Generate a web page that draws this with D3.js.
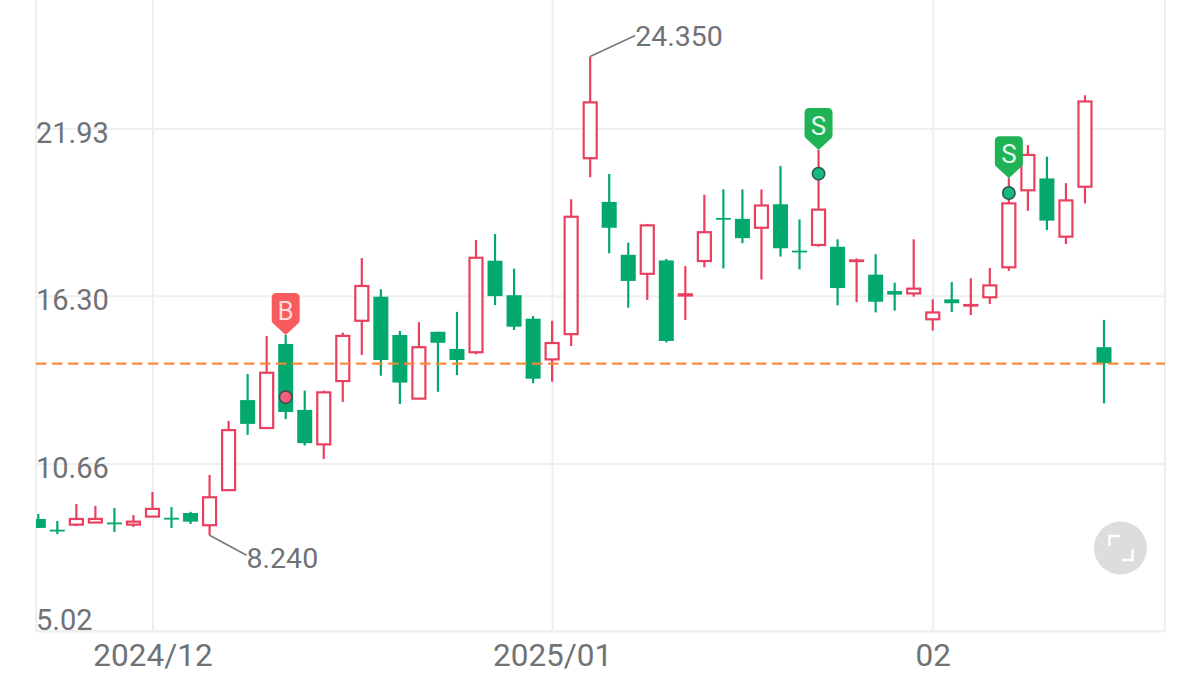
<!DOCTYPE html>
<html><head><meta charset="utf-8">
<script src="https://cdn.jsdelivr.net/npm/d3@7/dist/d3.min.js"></script>
<style>html,body{margin:0;padding:0;background:#fff;overflow:hidden}svg{display:block}text{font-family:Roboto,sans-serif}</style>
</head><body><svg id="c" width="1200" height="678"></svg>
<script>
const opens  = [8.79,8.43,8.60,8.67,8.67,8.60,8.87,8.83,8.99,8.58,9.76,12.79,11.85,14.68,12.46,11.30,13.43,15.46,16.27,14.98,12.84,15.09,14.51,14.40,17.48,16.32,15.53,14.16,15.01,20.93,19.46,17.68,17.04,17.49,16.31,17.47,18.92,18.89,18.59,19.38,17.82,18.01,17.95,17.47,17.01,16.46,16.38,15.51,16.18,15.97,16.25,17.26,19.85,20.25,18.29,19.97,14.57];
const closes = [8.49,8.41,8.79,8.79,8.65,8.70,9.13,8.81,8.70,9.52,11.78,11.99,13.71,12.39,11.34,13.05,14.95,16.63,14.14,13.38,14.57,14.72,14.14,17.58,16.29,15.26,13.51,14.71,18.96,22.81,18.59,16.80,18.67,14.78,16.35,18.44,18.90,18.24,19.34,17.90,17.80,19.20,16.56,17.49,16.10,16.34,16.54,15.74,16.05,15.99,16.65,19.41,21.04,18.83,19.51,22.84,14.03];
const highs  = [8.96,8.72,9.29,9.23,9.16,8.92,9.70,9.19,9.03,10.27,12.09,13.67,14.95,14.98,13.11,13.11,15.06,17.57,16.52,15.12,15.41,15.09,15.76,18.18,18.38,17.21,15.62,15.46,19.55,24.35,20.40,18.09,18.72,17.54,17.30,19.70,19.88,19.88,19.88,20.67,18.87,21.21,18.20,17.56,17.70,16.74,18.20,16.18,16.76,16.89,17.24,20.26,21.37,20.98,20.09,23.05,15.49];
const lows   = [8.49,8.28,8.55,8.66,8.35,8.52,8.86,8.49,8.62,8.24,9.74,11.62,11.84,12.15,11.26,10.81,12.73,14.31,13.61,12.66,12.82,13.07,13.63,14.33,15.99,15.15,13.36,13.41,14.61,20.29,17.73,15.90,16.16,14.73,15.49,17.26,17.22,18.07,16.85,17.62,17.19,17.95,15.98,16.09,15.74,15.80,16.27,15.13,15.75,15.65,16.02,17.14,19.16,18.51,18.04,19.41,12.68];

const yTickValues = [21.93, 16.30, 10.66, 5.02];
const xTickIndex  = [6, 27, 47];
const xTickLabels = ["2024/12", "2025/01", "02"];
const referencePrice = 14.02;
const extremeIndex = [29, 9];
const extremeLabels = ["24.350", "8.240"];
const signalIndex  = [13, 41, 51];
const signalKinds  = ["B", "S", "S"];
const signalPrices = [12.89, 20.41, 19.76];

const RED = "#e9405f", GREEN = "#03a86d", GRID = "#eeefef", TXT = "#707276";
const L = 36, R = 1165, B = 631;

const svg = d3.select("#c");
const x = d3.scaleLinear().domain([0, 56]).range([38.3, 1104]);
const y = d3.scaleLinear().domain([5.02, 21.93]).range([631, 128.5]);

svg.append("defs").append("clipPath").attr("id", "plot")
  .append("rect").attr("x", L).attr("y", 0).attr("width", R - L).attr("height", B);

// grid + axes
const yAxis = d3.axisRight(y).tickValues(yTickValues).tickSize(R - L).tickFormat(d3.format(".2f"));
const gy = svg.append("g").attr("transform", `translate(${L},0)`).call(yAxis);
gy.select(".domain").remove();
gy.selectAll("line").attr("stroke", GRID).attr("stroke-width", 2);
gy.selectAll("text").attr("text-anchor", "start").attr("x", 0).attr("dy", null)
  .attr("y", 14).attr("fill", TXT).style("font-size", "29px").style("font-family", "Roboto,sans-serif");
gy.selectAll("g.tick").filter(d => d === 5.02).select("text").attr("y", -1.5);

const xAxis = d3.axisBottom(x).tickValues(xTickIndex).tickSize(-B)
  .tickFormat(d => xTickLabels[xTickIndex.indexOf(d)]);
const gx = svg.append("g").attr("transform", `translate(0,${B})`).call(xAxis);
gx.select(".domain").remove();
gx.selectAll("line").attr("stroke", GRID).attr("stroke-width", 2);
gx.selectAll("text").attr("dy", null).attr("y", 34.5).attr("fill", TXT)
  .style("font-size", "31.5px").style("font-family", "Roboto,sans-serif");

// frame
const frame = svg.append("g").attr("stroke", GRID).attr("stroke-width", 2);
frame.append("line").attr("x1", L).attr("x2", L).attr("y1", 0).attr("y2", B);
frame.append("line").attr("x1", R).attr("x2", R).attr("y1", 0).attr("y2", B);
frame.append("line").attr("x1", L).attr("x2", R).attr("y1", B).attr("y2", B);

// candles
const plot = svg.append("g").attr("clip-path", "url(#plot)");
const c = plot.selectAll("g.k").data(d3.range(opens.length)).join("g").attr("class", "k");
const up = i => closes[i] >= opens[i];
const col = i => up(i) ? RED : GREEN;
const WIDTH = 15;
c.append("line").attr("x1", x).attr("x2", x)
  .attr("y1", i => y(highs[i])).attr("y2", i => y(lows[i]))
  .attr("stroke", col).attr("stroke-width", 2.2);
c.append("rect")
  .attr("x", i => x(i) - (up(i) ? (WIDTH - 2) / 2 : WIDTH / 2))
  .attr("width", i => up(i) ? WIDTH - 2 : WIDTH)
  .attr("y", i => y(Math.max(opens[i], closes[i])))
  .attr("height", i => Math.max(Math.abs(y(opens[i]) - y(closes[i])), up(i) ? 0.5 : 1.8))
  .attr("fill", i => up(i) ? "#fff" : GREEN)
  .attr("stroke", col)
  .attr("stroke-width", i => up(i) ? 2.2 : 0);

// reference line
svg.append("line").attr("x1", L).attr("x2", R).attr("y1", y(referencePrice)).attr("y2", y(referencePrice))
  .attr("stroke", "#f4883a").attr("stroke-width", 2.2).attr("stroke-dasharray", "10.5 5.5").attr("opacity", .95);

// extreme labels
const ext = svg.append("g");
extremeIndex.forEach((idx, k) => {
  const isHigh = k === 0;
  const px = x(idx), py = y(isHigh ? highs[idx] : lows[idx]);
  const ex = px + (isHigh ? 45 : 37), ey = py + (isHigh ? -21 : 20);
  ext.append("path").attr("d", d3.line()([[px, py], [ex, ey]])).attr("fill", "none")
    .attr("stroke", "#77797c").attr("stroke-width", 1.6);
  ext.append("text").attr("x", ex).attr("y", ey + (isHigh ? 10 : 13)).attr("fill", TXT)
    .style("font-size", "28.5px").text(extremeLabels[k]);
});

// signals
const sig = svg.append("g");
signalIndex.forEach((idx, k) => {
  const px = x(idx), tip = y(highs[idx]);
  const buy = signalKinds[k] === "B";
  const hw = 14, h = 42, sh = 12, r = 5;
  const p = d3.path();
  p.moveTo(px, tip);
  p.lineTo(px - hw + 1, tip - sh);
  p.quadraticCurveTo(px - hw, tip - sh - 1, px - hw, tip - sh - 3);
  p.lineTo(px - hw, tip - h + r);
  p.quadraticCurveTo(px - hw, tip - h, px - hw + r, tip - h);
  p.lineTo(px + hw - r, tip - h);
  p.quadraticCurveTo(px + hw, tip - h, px + hw, tip - h + r);
  p.lineTo(px + hw, tip - sh - 3);
  p.quadraticCurveTo(px + hw, tip - sh - 1, px + hw - 1, tip - sh);
  p.closePath();
  sig.append("path").attr("d", p.toString()).attr("fill", buy ? "#f75b5e" : "#1fb356");
  sig.append("text").attr("x", px).attr("y", tip - 15).attr("text-anchor", "middle")
    .attr("fill", buy ? "#ffd9d9" : "#e6f8ec").style("font-size", "26px").text(signalKinds[k]);
  sig.append("circle").attr("cx", px).attr("cy", y(signalPrices[k])).attr("r", 6.2)
    .attr("fill", buy ? "#f2607e" : "#12b981").attr("stroke", buy ? "#4d4a4c" : "#33564c").attr("stroke-width", 1.6);
});

// fullscreen button
const fb = svg.append("g").attr("transform", "translate(1120.5,548)");
fb.append("circle").attr("r", 26.5).attr("fill", "#dcdedd");
fb.append("path").attr("d", "M-11,-2V-12H-0.5 M12,1.5V12H1.5").attr("fill", "none").attr("stroke", "#fff").attr("stroke-width", 2.4);
</script></body></html>
